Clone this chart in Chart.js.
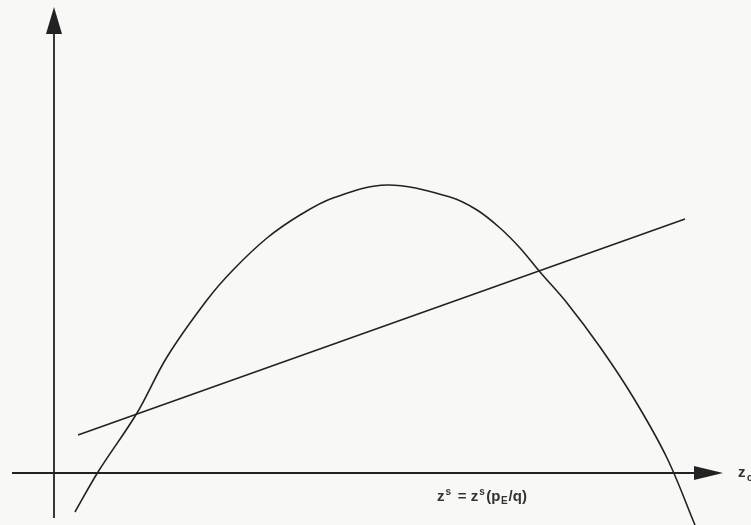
<!DOCTYPE html>
<html>
<head>
<meta charset="utf-8">
<script src="https://cdn.jsdelivr.net/npm/chart.js@4/dist/chart.umd.min.js"></script>
<style>
  html, body { margin: 0; padding: 0; background: #f8f8f6; }
  #wrap { position: relative; width: 751px; height: 525px; }
</style>
</head>
<body>
<div id="wrap"><canvas id="chart" width="751" height="525"></canvas></div>
<script>
// Curva (forma de U invertido)
const curveX = [21, 44, 83, 113, 153, 179, 213, 246, 279, 333, 396, 423, 446, 466, 486, 513, 546, 579, 613, 641];
const curveY = [-39, 1, 60, 116, 173, 203, 235, 258, 275, 288, 276, 263, 245, 225, 201, 170, 126, 76, 15, -52];

// Reta z^s = z^s(pE/q)
const lineX = [24, 631];
const lineY = [38, 254];

// Extensão dos eixos
const axisXFrom = -42, axisXTo = 669;
const axisYFrom = -45, axisYTo = 466;

const INK = '#222';

const axesPlugin = {
    id: 'axes',
    beforeDatasetsDraw(chart) {
        const ctx = chart.ctx;
        const sx = chart.scales.x, sy = chart.scales.y;
        const x0 = sx.getPixelForValue(0), y0 = sy.getPixelForValue(0);

        ctx.save();
        ctx.strokeStyle = INK;
        ctx.fillStyle = INK;
        ctx.lineWidth = 1.8;

        // eixo horizontal
        const hx1 = sx.getPixelForValue(axisXFrom), hx2 = sx.getPixelForValue(axisXTo);
        ctx.beginPath();
        ctx.moveTo(hx1, y0);
        ctx.lineTo(hx2 - 20, y0);
        ctx.stroke();
        ctx.beginPath();
        ctx.moveTo(hx2, y0);
        ctx.lineTo(hx2 - 29, y0 - 7);
        ctx.lineTo(hx2 - 29, y0 + 7);
        ctx.closePath();
        ctx.fill();

        // eixo vertical
        const vy1 = sy.getPixelForValue(axisYFrom), vy2 = sy.getPixelForValue(axisYTo);
        ctx.beginPath();
        ctx.moveTo(x0, vy1);
        ctx.lineTo(x0, vy2 + 20);
        ctx.stroke();
        ctx.beginPath();
        ctx.moveTo(x0, vy2);
        ctx.lineTo(x0 - 8, vy2 + 27);
        ctx.lineTo(x0 + 8, vy2 + 27);
        ctx.closePath();
        ctx.fill();

        // rótulos
        ctx.textBaseline = 'alphabetic';
        ctx.fillStyle = '#333';
        const big = 'bold 15px "Liberation Sans", Arial, sans-serif';
        const small = 'bold 10px "Liberation Sans", Arial, sans-serif';
        let tx = sx.getPixelForValue(383), ty = y0 + 28;
        const parts = [
            ['z', big, 0, 1], ['s', small, -6, 2.5], [' = z', big, 0, 1], ['s', small, -6, 1.5],
            ['(p', big, 0, 0.5], ['E', small, 3, 1], ['/q)', big, 0, 0]
        ];
        parts.forEach(([t, f, dy, gap]) => {
            ctx.font = f;
            ctx.fillText(t, tx, ty + dy);
            tx += ctx.measureText(t).width + gap;
        });

        // z_c no fim do eixo
        ctx.font = 'bold 15px "Liberation Sans", Arial, sans-serif';
        const zx = hx2 + 15;
        ctx.fillText('z', zx, y0 + 4);
        ctx.font = 'bold 10px "Liberation Sans", Arial, sans-serif';
        ctx.fillText('c', zx + 9, y0 + 8);
        ctx.restore();
    }
};

new Chart(document.getElementById('chart'), {
    type: 'line',
    data: {
        datasets: [
            {
                data: curveX.map((x, i) => ({ x: x, y: curveY[i] })),
                borderColor: INK,
                borderWidth: 1.6,
                pointRadius: 0,
                tension: 0.35,
                fill: false
            },
            {
                data: lineX.map((x, i) => ({ x: x, y: lineY[i] })),
                borderColor: INK,
                borderWidth: 1.6,
                pointRadius: 0,
                fill: false
            }
        ]
    },
    options: {
        responsive: false,
        animation: false,
        layout: { padding: 0 },
        plugins: { legend: { display: false }, tooltip: { enabled: false } },
        scales: {
            x: { type: 'linear', min: -54, max: 697, display: false },
            y: { type: 'linear', min: -52, max: 473, display: false }
        }
    },
    plugins: [axesPlugin]
});
</script>
</body>
</html>
